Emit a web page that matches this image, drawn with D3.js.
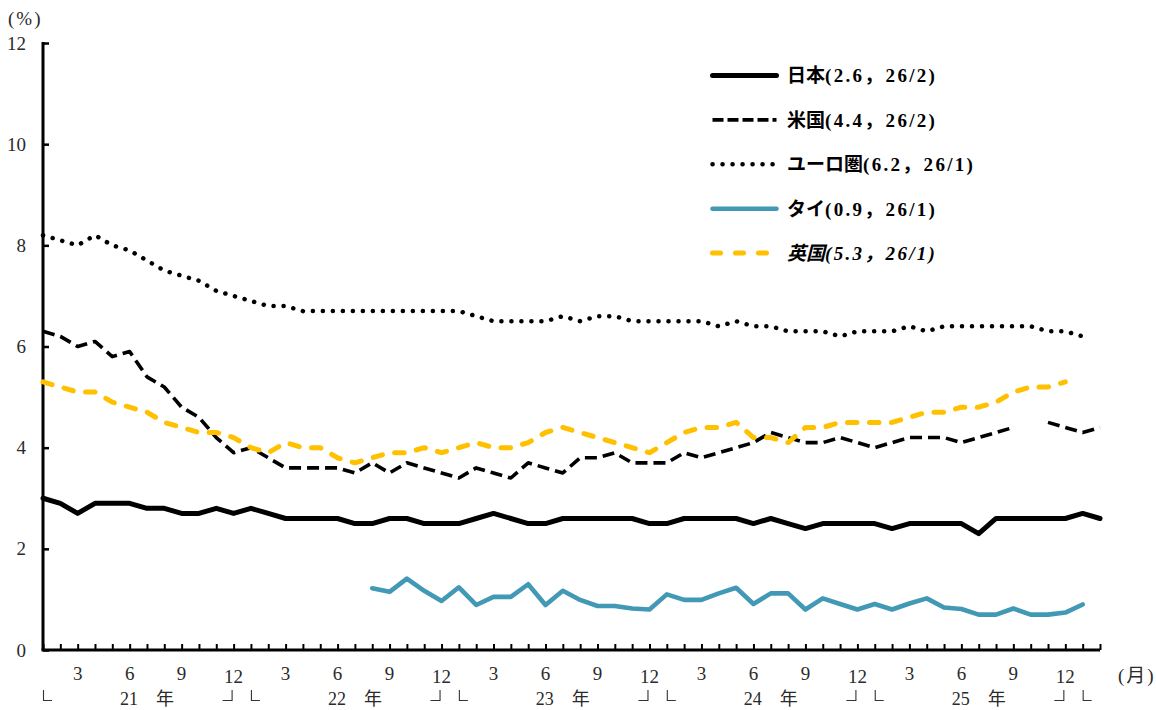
<!DOCTYPE html>
<html>
<head>
<meta charset="utf-8">
<script src="https://cdn.jsdelivr.net/npm/d3@7"></script>
<style>
  body { margin: 0; background: #fff; }
  svg { display: block; }
</style>
</head>
<body>
<svg id="chart" width="1156" height="710"></svg>
<script>
// Monthly unemployment rates (%), Jan 2021 – Feb 2026
const months = [
  "21/1","21/2","21/3","21/4","21/5","21/6","21/7","21/8","21/9","21/10","21/11","21/12",
  "22/1","22/2","22/3","22/4","22/5","22/6","22/7","22/8","22/9","22/10","22/11","22/12",
  "23/1","23/2","23/3","23/4","23/5","23/6","23/7","23/8","23/9","23/10","23/11","23/12",
  "24/1","24/2","24/3","24/4","24/5","24/6","24/7","24/8","24/9","24/10","24/11","24/12",
  "25/1","25/2","25/3","25/4","25/5","25/6","25/7","25/8","25/9","25/10","25/11","25/12",
  "26/1","26/2"
];

const japan = [
  3.0,2.9,2.7,2.9,2.9,2.9,2.8,2.8,2.7,2.7,2.8,2.7,
  2.8,2.7,2.6,2.6,2.6,2.6,2.5,2.5,2.6,2.6,2.5,2.5,
  2.5,2.6,2.7,2.6,2.5,2.5,2.6,2.6,2.6,2.6,2.6,2.5,
  2.5,2.6,2.6,2.6,2.6,2.5,2.6,2.5,2.4,2.5,2.5,2.5,
  2.5,2.4,2.5,2.5,2.5,2.5,2.3,2.6,2.6,2.6,2.6,2.6,
  2.7,2.6
];

const usa = [
  6.3,6.2,6.0,6.1,5.8,5.9,5.4,5.2,4.8,4.6,4.2,3.9,
  4.0,3.8,3.6,3.6,3.6,3.6,3.5,3.7,3.5,3.7,3.6,3.5,
  3.4,3.6,3.5,3.4,3.7,3.6,3.5,3.8,3.8,3.9,3.7,3.7,
  3.7,3.9,3.8,3.9,4.0,4.1,4.3,4.2,4.1,4.1,4.2,4.1,
  4.0,4.1,4.2,4.2,4.2,4.1,4.2,4.3,4.4,null,4.5,4.4,
  4.3,4.4
];

const euro = [
  8.2,8.1,8.0,8.2,8.0,7.9,7.7,7.5,7.4,7.3,7.1,7.0,
  6.9,6.8,6.8,6.7,6.7,6.7,6.7,6.7,6.7,6.7,6.7,6.7,
  6.7,6.6,6.5,6.5,6.5,6.5,6.6,6.5,6.6,6.6,6.5,6.5,
  6.5,6.5,6.5,6.4,6.5,6.4,6.4,6.3,6.3,6.3,6.2,6.3,
  6.3,6.3,6.4,6.3,6.4,6.4,6.4,6.4,6.4,6.4,6.3,6.3,
  6.2,null
];

const thai = [
  null,null,null,null,null,null,null,null,null,null,null,null,
  null,null,null,null,null,null,null,1.22,1.15,1.41,1.17,0.97,
  1.24,0.89,1.05,1.05,1.30,0.89,1.17,0.99,0.87,0.87,0.82,0.80,
  1.10,0.99,0.99,1.12,1.23,0.91,1.12,1.12,0.80,1.02,0.91,0.80,
  0.91,0.80,0.92,1.02,0.84,0.81,0.70,0.70,0.82,0.70,0.70,0.74,
  0.90,null
];

const uk = [
  5.3,5.2,5.1,5.1,4.9,4.8,4.7,4.5,4.4,4.3,4.3,4.2,
  4.0,3.9,4.1,4.0,4.0,3.8,3.7,3.8,3.9,3.9,4.0,3.9,
  4.0,4.1,4.0,4.0,4.1,4.3,4.4,4.3,4.2,4.1,4.0,3.9,
  4.1,4.3,4.4,4.4,4.5,4.2,4.2,4.1,4.4,4.4,4.5,4.5,
  4.5,4.5,4.6,4.7,4.7,4.8,4.8,4.9,5.1,5.2,5.2,5.3,
  null,null
];

const yTicks = [0, 2, 4, 6, 8, 10, 12];
const monthTickLabels = ["3", "6", "9", "12"];
const yearLabels = ["21\u3000年", "22\u3000年", "23\u3000年", "24\u3000年", "25\u3000年"];
const legendNames = ["日本", "米国", "ユーロ圏", "タイ", "英国"];
const legendNotes = ["(2.6，26/2)", "(4.4，26/2)", "(6.2，26/1)", "(0.9，26/1)", "(5.3，26/1)"];

const svg = d3.select("#chart");
const plot = { left: 43, right: 1100, top: 43, bottom: 650 };

const numFont = "'Liberation Serif', 'Noto Sans CJK JP', serif";
const textColor = "#2a2a2a";

const x = d3.scalePoint().domain(months).range([plot.left, plot.right]);
const y = d3.scaleLinear().domain([0, 12]).range([plot.bottom, plot.top]);

// Series styling
const series = [
  { values: japan, color: "#000",    width: 5,   dash: null,       cap: "round", legendDash: null,      italic: false },
  { values: usa,   color: "#000",    width: 3.6, dash: "12,6",     cap: "butt",  legendDash: "11,4",    italic: false },
  { values: euro,  color: "#000",    width: 4.5, dash: "0.1,9.9",  cap: "round", legendDash: "0.1,9.9", italic: false },
  { values: thai,  color: "#4299b5", width: 4.6, dash: null,       cap: "round", legendDash: null,      italic: false },
  { values: uk,    color: "#ffc000", width: 5,   dash: "9.5,12.5", cap: "round", legendDash: "8,15",    italic: true }
];

// Axes
const yAxis = d3.axisLeft(y).tickValues(yTicks).tickSize(-6).tickPadding(17).tickFormat(d3.format("d"));
const gy = svg.append("g").attr("transform", `translate(${plot.left},0)`).call(yAxis);
gy.select(".domain").attr("stroke", "#000").attr("stroke-width", 3)
  .attr("d", `M0,${plot.top - 1}V${plot.bottom}`);
gy.selectAll(".tick line").attr("stroke", "#000").attr("stroke-width", 2.5);
gy.selectAll(".tick text").attr("font-family", numFont).attr("font-size", 19)
  .attr("fill", textColor);

const xAxis = d3.axisBottom(x).tickSize(-6).tickFormat("");
const gx = svg.append("g").attr("transform", `translate(0,${plot.bottom})`).call(xAxis);
gx.select(".domain").attr("stroke", "#000").attr("stroke-width", 3)
  .attr("d", `M${plot.left - 1.5},0H${plot.right}`);
gx.selectAll(".tick line").attr("stroke", "#000").attr("stroke-width", 2);

// Month labels (3, 6, 9, 12)
const monthOf = m => m.split("/")[1];
svg.append("g").selectAll("text")
  .data(months.filter(m => monthTickLabels.includes(monthOf(m))))
  .join("text")
  .attr("x", m => x(m))
  .attr("y", m => monthOf(m) === "12" ? 676 : 673)
  .attr("dy", "0.35em")
  .attr("text-anchor", "middle")
  .attr("font-family", numFont).attr("font-size", 19).attr("fill", textColor)
  .text(m => monthOf(m));

// Year labels, centred under July
svg.append("g").selectAll("text")
  .data(months.filter(m => monthOf(m) === "7"))
  .join("text")
  .attr("x", m => x(m))
  .attr("y", 699)
  .attr("dy", "0.35em")
  .attr("text-anchor", "middle")
  .attr("font-family", numFont).attr("font-size", 18).attr("fill", textColor)
  .text((m, i) => yearLabels[i]);

// Year brackets: start-of-year and end-of-year corner marks
const bracketG = svg.append("g").attr("fill", "none").attr("stroke", "#333").attr("stroke-width", 1.1);
bracketG.selectAll("path.start")
  .data(months.filter(m => monthOf(m) === "1"))
  .join("path").attr("class", "start")
  .attr("d", m => `M${x(m) + 0.5},690V700.5H${x(m) + 9}`);
bracketG.selectAll("path.end")
  .data(months.filter(m => monthOf(m) === "12"))
  .join("path").attr("class", "end")
  .attr("d", m => `M${x(m) - 11},700.5H${x(m) - 1.5}V690`);

// Unit labels
svg.append("text").attr("x", 8).attr("y", 18).attr("dy", "0.35em")
  .attr("font-family", numFont).attr("font-size", 19).attr("fill", textColor)
  .attr("letter-spacing", 2)
  .text("(%)");
svg.append("text").attr("x", 1118).attr("y", 675).attr("dy", "0.35em")
  .attr("font-family", numFont).attr("font-size", 19).attr("fill", textColor)
  .attr("letter-spacing", 2)
  .text("(月)");

// Series lines
const line = d3.line()
  .defined(d => d.v != null)
  .x(d => x(d.m))
  .y(d => y(d.v));

const linesG = svg.append("g");
// draw order: euro, usa, japan, uk, thai
[2, 1, 0, 4, 3].forEach(k => {
  const s = series[k];
  linesG.append("path")
    .datum(s.values.map((v, i) => ({ m: months[i], v })))
    .attr("fill", "none")
    .attr("stroke", s.color)
    .attr("stroke-width", s.width)
    .attr("stroke-linejoin", "round")
    .attr("stroke-linecap", s.cap)
    .attr("stroke-dasharray", s.dash)
    .attr("d", line);
});

// Legend
const legend = svg.append("g");
const legY0 = 75.5, legStep = 44.4;
series.forEach((s, i) => {
  const yy = legY0 + i * legStep;
  const x1 = 712.5, x2 = s.legendDash === "8,15" ? 772 : 776.5;
  legend.append("line")
    .attr("x1", x1).attr("x2", x2).attr("y1", yy).attr("y2", yy)
    .attr("stroke", s.color)
    .attr("stroke-width", s.width)
    .attr("stroke-linecap", s.cap)
    .attr("stroke-dasharray", s.legendDash);
  const t = legend.append("text")
    .attr("x", 787).attr("y", yy).attr("dy", "0.36em")
    .attr("font-family", numFont).attr("font-size", 19).attr("font-weight", "bold")
    .attr("font-style", s.italic ? "italic" : "normal")
    .attr("fill", "#000");
  t.append("tspan").text(legendNames[i]);
  t.append("tspan").attr("letter-spacing", 2.3).text(legendNotes[i]);
});
</script>
</body>
</html>
